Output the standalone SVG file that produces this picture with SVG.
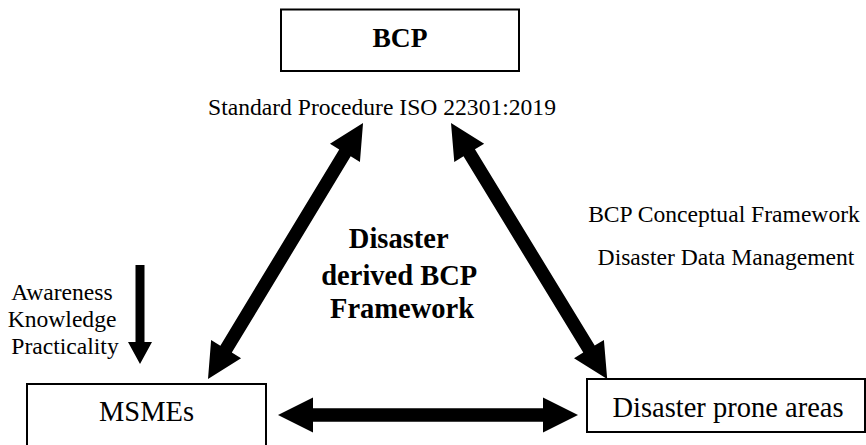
<svg xmlns="http://www.w3.org/2000/svg" width="866" height="445" viewBox="0 0 866 445">
  <style>
    .box { fill: #ffffff; stroke: #000000; stroke-width: 2; }
    .arrow { fill: #000000; stroke: none; }
    text { font-family: "Liberation Serif", "Times New Roman", serif; fill: #000000; }
    .lbl { font-size: 23.6px; }
    .node { font-size: 28.5px; }
    .bold { font-weight: bold; }
  </style>
  <defs>
    <!-- double-headed block arrow, 300 long, along +x from the origin -->
    <path id="dbl300" d="M0,0 L35,-17.5 L35,-6.7 L265,-6.7 L265,-17.5 L300,0 L265,17.5 L265,6.7 L35,6.7 L35,17.5 Z"/>
  </defs>
  <rect width="866" height="445" fill="#ffffff"/>

  <g id="connectors">
    <!-- MSMEs <-> BCP -->
    <use href="#dbl300" class="arrow" transform="translate(208,379) rotate(-58.8) scale(0.9977,1)"/>
    <!-- BCP <-> Disaster prone areas -->
    <use href="#dbl300" class="arrow" transform="translate(451,123) rotate(58.6) scale(0.9993,1)"/>
    <!-- MSMEs <-> Disaster prone areas -->
    <use href="#dbl300" class="arrow" transform="translate(278,415)"/>
    <!-- downward arrow into MSMEs -->
    <path class="arrow" d="M135.5,265 L144.5,265 L144.5,342 L152,342 L140,364 L128,342 L135.5,342 Z"/>
  </g>

  <g id="bcp">
    <rect class="box" x="281" y="9.5" width="238" height="61.5"/>
    <text class="bold" x="400" y="47" font-size="27.5" text-anchor="middle">BCP</text>
    <text class="lbl" x="382" y="114.5" text-anchor="middle">Standard Procedure ISO 22301:2019</text>
  </g>

  <g id="msmes">
    <rect class="box" x="27" y="384" width="239" height="70"/>
    <text class="node" x="146.5" y="421" text-anchor="middle">MSMEs</text>
  </g>

  <g id="disaster-prone-areas">
    <rect class="box" x="587" y="379" width="278" height="53"/>
    <text class="node" x="728" y="417" text-anchor="middle">Disaster prone areas</text>
  </g>

  <g id="framework-label">
    <text class="bold" font-size="28.5" text-anchor="middle">
      <tspan x="402" y="248">Disaster</tspan>
      <tspan x="402" y="284.5">derived BCP</tspan>
      <tspan x="402" y="318">Framework</tspan>
    </text>
  </g>

  <g id="msme-factors">
    <text class="lbl" text-anchor="middle">
      <tspan x="65" y="300">Awareness</tspan>
      <tspan x="65" y="327">Knowledge</tspan>
      <tspan x="65" y="354">Practicality</tspan>
    </text>
  </g>

  <g id="disaster-inputs">
    <text class="lbl" x="724" y="222" text-anchor="middle">BCP Conceptual Framework</text>
    <text class="lbl" x="726" y="265" text-anchor="middle">Disaster Data Management</text>
  </g>
</svg>
